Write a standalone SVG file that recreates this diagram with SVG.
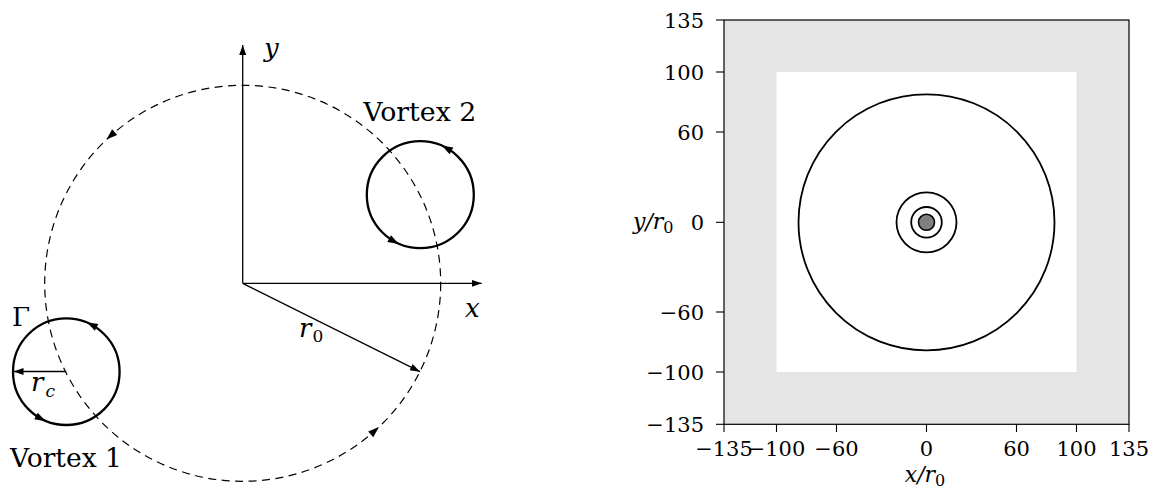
<svg xmlns="http://www.w3.org/2000/svg" width="1153" height="490" viewBox="0 0 1153 490" font-family="DejaVu Serif, Liberation Serif, serif">
<style>
  text { fill: #000; }
  .lbl { font-size: 26px; }
  .m { font-style: italic; }
  .tk { font-size: 21px; }
  .axis { stroke: #000; stroke-width: 1.3; fill: none; }
  .dash { stroke: #000; stroke-width: 1.2; fill: none; stroke-dasharray: 8 5.5; }
  .vortex { stroke: #000; stroke-width: 2.3; fill: none; }
  .ring { stroke: #000; stroke-width: 1.8; fill: none; }
  .frame { stroke: #000; stroke-width: 1.2; fill: none; }
</style>
<defs>
  <path id="ah" d="M5,0 L-6,-3.8 L-6,3.8 Z" fill="#000"/>
  <marker id="arr" markerWidth="12" markerHeight="10" refX="10" refY="4" orient="auto" markerUnits="userSpaceOnUse">
    <path d="M0,0.5 L10,4 L0,7.5 Z" fill="#000"/>
  </marker>
</defs>
<rect width="1153" height="490" fill="#fff"/>

<g id="orbit">
  <circle class="dash" cx="242.7" cy="283.3" r="198"/>
  <use href="#ah" transform="translate(110.2,136.2) rotate(138)"/>
  <use href="#ah" transform="translate(375.2,430.4) rotate(-42)"/>
</g>

<g id="vortex1">
  <circle class="vortex" cx="66.3" cy="371.7" r="53.3"/>
  <use href="#ah" transform="translate(91.3,324.6) rotate(-152)"/>
  <use href="#ah" transform="translate(41.3,418.8) rotate(28)"/>
  <text class="lbl" x="10" y="467" textLength="112" lengthAdjust="spacingAndGlyphs">Vortex 1</text>
  <text class="lbl" x="12" y="325.5" font-size="25">Γ</text>
  <text class="lbl m" x="31" y="391" font-size="24">r</text>
  <text class="m" x="45.5" y="397" font-size="17">c</text>
</g>

<g id="vortex2">
  <circle class="vortex" cx="420.3" cy="194.7" r="53.5"/>
  <use href="#ah" transform="translate(446.2,147.9) rotate(-151)"/>
  <use href="#ah" transform="translate(394.4,241.5) rotate(29)"/>
  <text class="lbl" x="363.3" y="120.7" textLength="113" lengthAdjust="spacingAndGlyphs">Vortex 2</text>
</g>

<g id="connectors">
  <line class="axis" x1="242.7" y1="283.3" x2="242.7" y2="45" marker-end="url(#arr)"/>
  <line class="axis" x1="242.7" y1="283.3" x2="481.7" y2="283.3" marker-end="url(#arr)"/>
  <line class="axis" x1="242.7" y1="283.3" x2="420" y2="371.7" marker-end="url(#arr)"/>
  <line class="axis" x1="66.3" y1="371.5" x2="13.5" y2="371.5" marker-end="url(#arr)"/>
</g>

<g id="axis-labels">
  <text class="lbl m" x="264" y="57" font-size="25">y</text>
  <text class="lbl m" x="465" y="317" font-size="25">x</text>
  <text class="lbl m" x="299" y="337" font-size="24">r</text>
  <text x="312.5" y="342" font-size="17">0</text>
</g>

<g id="plot">
  <rect x="724" y="20" width="405" height="404.3" fill="#e5e5e5"/>
  <rect x="776.5" y="72" width="300" height="300" fill="#fff"/>
  <rect class="frame" x="724" y="20" width="405" height="404.3"/>
  <circle class="ring" cx="926.5" cy="222.3" r="128"/>
  <circle class="ring" cx="926.5" cy="222.3" r="30"/>
  <circle class="ring" cx="926.5" cy="222.3" r="15.3"/>
  <circle cx="926.5" cy="222.3" r="8" fill="#808080" stroke="#000" stroke-width="1.6"/>
</g>

<g id="ticks" stroke="#000" stroke-width="1.1">
  <line x1="716" y1="20" x2="724" y2="20"/>
  <line x1="716" y1="72" x2="724" y2="72"/>
  <line x1="716" y1="132" x2="724" y2="132"/>
  <line x1="716" y1="222.3" x2="724" y2="222.3"/>
  <line x1="716" y1="312" x2="724" y2="312"/>
  <line x1="716" y1="372" x2="724" y2="372"/>
  <line x1="716" y1="424.3" x2="724" y2="424.3"/>
  <line x1="724" y1="424.3" x2="724" y2="432"/>
  <line x1="776.5" y1="424.3" x2="776.5" y2="432"/>
  <line x1="836.5" y1="424.3" x2="836.5" y2="432"/>
  <line x1="926.5" y1="424.3" x2="926.5" y2="432"/>
  <line x1="1016.5" y1="424.3" x2="1016.5" y2="432"/>
  <line x1="1076.5" y1="424.3" x2="1076.5" y2="432"/>
  <line x1="1129" y1="424.3" x2="1129" y2="432"/>
</g>

<g id="tick-labels">
  <g text-anchor="end">
    <text class="tk" x="704" y="28">135</text>
    <text class="tk" x="704" y="80">100</text>
    <text class="tk" x="704" y="140">60</text>
    <text class="tk" x="704" y="230">0</text>
    <text class="tk" x="704" y="320">−60</text>
    <text class="tk" x="704" y="380">−100</text>
    <text class="tk" x="704" y="432">−135</text>
  </g>
  <g text-anchor="middle">
    <text class="tk" x="724" y="456">−135</text>
    <text class="tk" x="776.5" y="456">−100</text>
    <text class="tk" x="836.5" y="456">−60</text>
    <text class="tk" x="926.5" y="456">0</text>
    <text class="tk" x="1016.5" y="456">60</text>
    <text class="tk" x="1076.5" y="456">100</text>
    <text class="tk" x="1129" y="456">135</text>
  </g>
  <text x="925" y="482" text-anchor="middle" font-size="22"><tspan font-style="italic">x/r</tspan><tspan font-size="16" dy="4">0</tspan></text>
  <text x="633" y="229" font-size="22"><tspan font-style="italic">y/r</tspan><tspan font-size="16" dy="4">0</tspan></text>
</g>
</svg>
